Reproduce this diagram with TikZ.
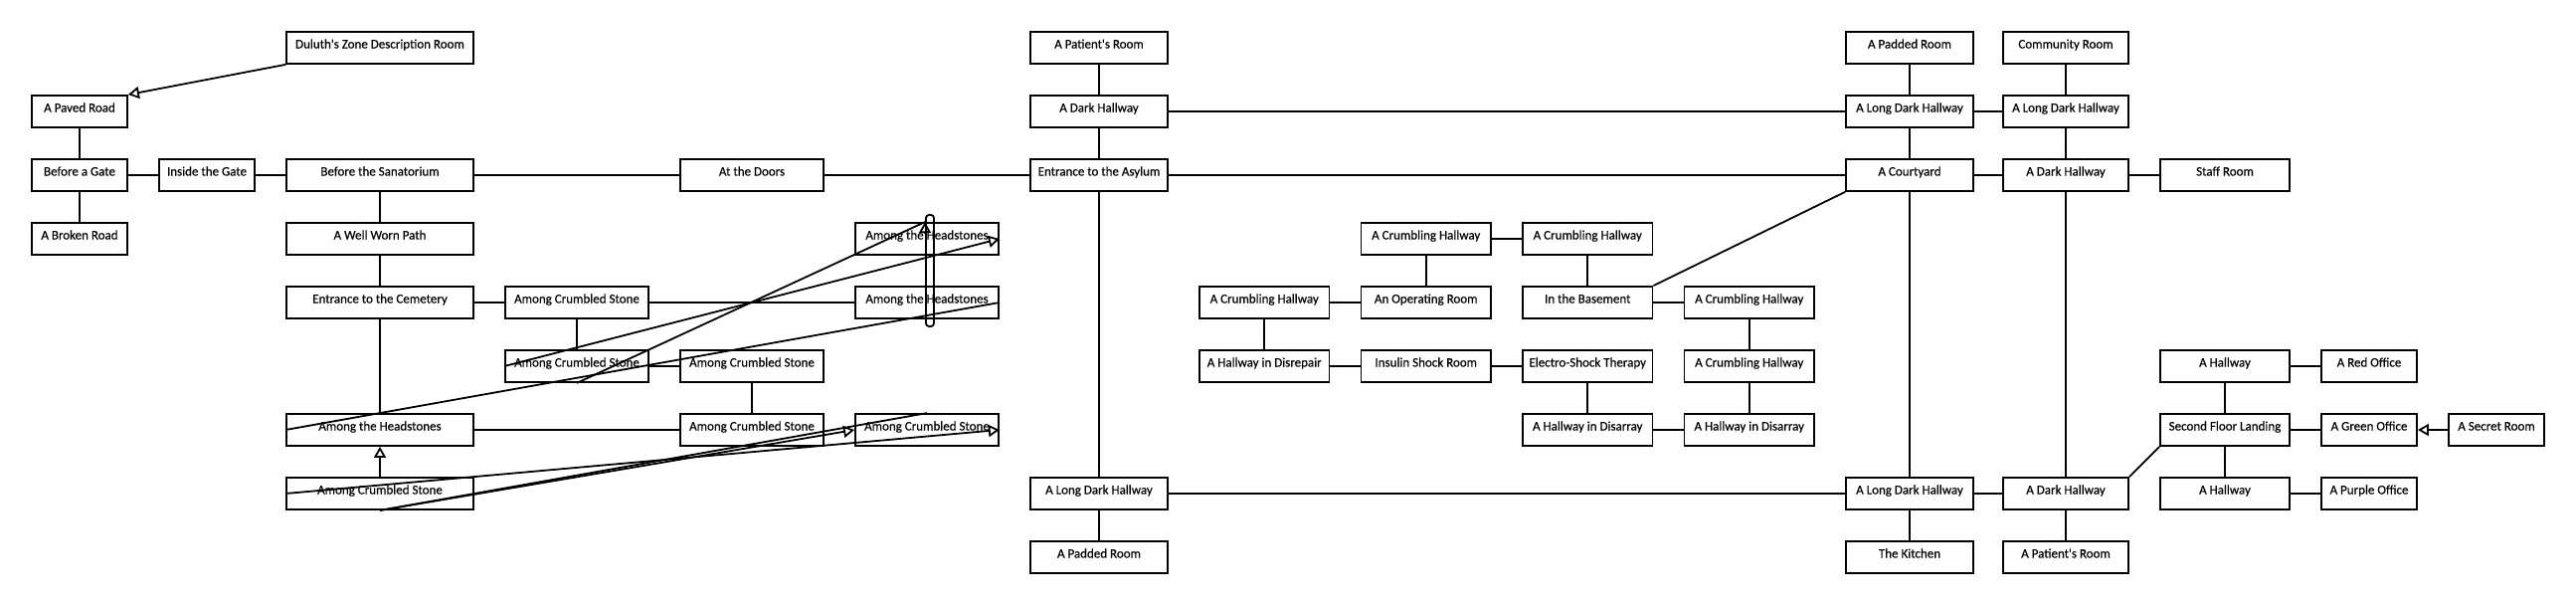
\documentclass[tikz,border=0pt]{standalone}
\usepackage{fontspec}
\setmainfont{Carlito}
\newfontfamily\roomfont[FakeBold=0.4]{Carlito}
\usetikzlibrary{arrows.meta}
\begin{document}
\begin{tikzpicture}[x=1pt,y=-1pt,
  room/.style={draw, line width=1.8pt, rectangle, inner sep=0pt, minimum height=32pt,
    text height=8.5pt, text depth=7.5pt, font=\roomfont\fontsize{13}{15}\selectfont},
  cA/.style={room, minimum width=96pt},
  cB/.style={room, minimum width=188pt},
  cC/.style={room, minimum width=144pt},
  cD/.style={room, minimum width=138pt},
  cE/.style={room, minimum width=130.5pt},
  cF/.style={room, minimum width=128pt},
  cG/.style={room, minimum width=126pt},
  cH/.style={room, minimum width=130pt},
  link/.style={line width=1.8pt},
  tip/.style={line width=1.8pt, -{Triangle[open, length=11pt, width=12pt]}}
]
\useasboundingbox (0,0) rectangle (2590,608);
% row 0
\node[cB] (duluth) at (382,48) {Duluth\textquotesingle s Zone Description Room};
\node[cD] (pat0) at (1105,48) {A Patient\textquotesingle s Room};
\node[cF] (padded0) at (1920,48) {A Padded Room};
\node[cG] (community) at (2077,48) {Community Room};
% row 1
\node[cA] (paved) at (80,112) {A Paved Road};
\node[cD] (darkh1) at (1105,112) {A Dark Hallway};
\node[cF] (ldh1a) at (1920,112) {A Long Dark Hallway};
\node[cG] (ldh1b) at (2077,112) {A Long Dark Hallway};
% row 2
\node[cA] (gate) at (80,176) {Before a Gate};
\node[cA] (inside) at (208,176) {Inside the Gate};
\node[cB] (sanat) at (382,176) {Before the Sanatorium};
\node[cC] (doors) at (756,176) {At the Doors};
\node[cD] (asylum) at (1105,176) {Entrance to the Asylum};
\node[cF] (court) at (1920,176) {A Courtyard};
\node[cG] (darkh2) at (2077,176) {A Dark Hallway};
\node[cH] (staff) at (2237,176) {Staff Room};
% row 3
\node[cA] (broken) at (80,240) {A Broken Road};
\node[cB] (worn) at (382,240) {A Well Worn Path};
\node[cC] (ath3) at (932,240) {Among the Headstones};
\node[cE] (crum3a) at (1433.75,240) {A Crumbling Hallway};
\node[cE] (crum3b) at (1596.25,240) {A Crumbling Hallway};
% row 4
\node[cB] (cemetery) at (382,304) {Entrance to the Cemetery};
\node[cC] (acs4) at (580,304) {Among Crumbled Stone};
\node[cC] (ath4) at (932,304) {Among the Headstones};
\node[cE] (crum4a) at (1271.25,304) {A Crumbling Hallway};
\node[cE] (operating) at (1433.75,304) {An Operating Room};
\node[cE] (basement) at (1596.25,304) {In the Basement};
\node[cE] (crum4b) at (1758.75,304) {A Crumbling Hallway};
% row 5
\node[cC] (acs5a) at (580,368) {Among Crumbled Stone};
\node[cC] (acs5b) at (756,368) {Among Crumbled Stone};
\node[cE] (disrepair) at (1271.25,368) {A Hallway in Disrepair};
\node[cE] (insulin) at (1433.75,368) {Insulin Shock Room};
\node[cE] (electro) at (1596.25,368) {Electro-Shock Therapy};
\node[cE] (crum5) at (1758.75,368) {A Crumbling Hallway};
\node[cH] (hall5) at (2237,368) {A Hallway};
\node[cA] (red) at (2382,368) {A Red Office};
% row 6
\node[cB] (ath6) at (382,432) {Among the Headstones};
\node[cC] (acs6a) at (756,432) {Among Crumbled Stone};
\node[cC] (acs6b) at (932,432) {Among Crumbled Stone};
\node[cE] (disarray1) at (1596.25,432) {A Hallway in Disarray};
\node[cE] (disarray2) at (1758.75,432) {A Hallway in Disarray};
\node[cH] (landing) at (2237,432) {Second Floor Landing};
\node[cA] (green) at (2382,432) {A Green Office};
\node[cA] (secret) at (2510,432) {A Secret Room};
% row 7
\node[cB] (acs7) at (382,496) {Among Crumbled Stone};
\node[cD] (ldh7a) at (1105,496) {A Long Dark Hallway};
\node[cF] (ldh7b) at (1920,496) {A Long Dark Hallway};
\node[cG] (darkh7) at (2077,496) {A Dark Hallway};
\node[cH] (hall7) at (2237,496) {A Hallway};
\node[cA] (purple) at (2382,496) {A Purple Office};
% row 8
\node[cD] (padded8) at (1105,560) {A Padded Room};
\node[cF] (kitchen) at (1920,560) {The Kitchen};
\node[cG] (pat8) at (2077,560) {A Patient\textquotesingle s Room};

% plain links
\draw[link] (paved) -- (gate);
\draw[link] (gate) -- (broken);
\draw[link] (gate) -- (inside);
\draw[link] (inside) -- (sanat);
\draw[link] (sanat) -- (doors);
\draw[link] (doors) -- (asylum);
\draw[link] (sanat) -- (worn);
\draw[link] (worn) -- (cemetery);
\draw[link] (cemetery) -- (acs4);
\draw[link] (cemetery) -- (ath6);
\draw[link] (acs4) -- (ath4);
\draw[link] (acs4) -- (acs5a);
\draw[link] (acs5a) -- (acs5b);
\draw[link] (acs5b) -- (acs6a);
\draw[link] (ath6) -- (acs6a);
\draw[link] (pat0) -- (darkh1);
\draw[link] (darkh1) -- (asylum);
\draw[link] (darkh1) -- (ldh1a);
\draw[link] (asylum) -- (court);
\draw[link] (asylum) -- (ldh7a);
\draw[link] (ldh7a) -- (padded8);
\draw[link] (ldh7a) -- (ldh7b);
\draw[link] (padded0) -- (ldh1a);
\draw[link] (ldh1a) -- (ldh1b);
\draw[link] (community) -- (ldh1b);
\draw[link] (ldh1a) -- (court);
\draw[link] (ldh1b) -- (darkh2);
\draw[link] (court) -- (darkh2);
\draw[link] (darkh2) -- (staff);
\draw[link] (court) -- (ldh7b);
\draw[link] (darkh2) -- (darkh7);
\draw[link] (ldh7b) -- (kitchen);
\draw[link] (ldh7b) -- (darkh7);
\draw[link] (darkh7) -- (pat8);
\draw[link] (darkh7.north east) -- (landing.south west);
\draw[link] (landing) -- (hall5);
\draw[link] (hall5) -- (red);
\draw[link] (landing) -- (green);
\draw[link] (landing) -- (hall7);
\draw[link] (hall7) -- (purple);
\draw[link] (crum3a) -- (crum3b);
\draw[link] (crum3a) -- (operating);
\draw[link] (crum3b) -- (basement);
\draw[link] (crum4a) -- (operating);
\draw[link] (crum4a) -- (disrepair);
\draw[link] (disrepair) -- (insulin);
\draw[link] (insulin) -- (electro);
\draw[link] (basement) -- (crum4b);
\draw[link] (crum4b) -- (crum5);
\draw[link] (electro) -- (disarray1);
\draw[link] (crum5) -- (disarray2);
\draw[link] (disarray1) -- (disarray2);
\draw[link] (basement.north east) -- (court.south west);

% arrowed links
\draw[tip] (duluth.south west) -- (paved.north east);
\draw[tip] (acs7) -- (ath6);
\draw[tip] (secret) -- (green);

% crossing links in the cemetery
\draw[link] (ath6.west) -- (ath4.east);
\draw[tip] (acs5a.west) -- (ath3.east);
\draw[link] (acs5a.south) -- ([xshift=-2pt]ath3.north);
\draw[tip] ([xshift=-2pt,yshift=-11pt]ath3.north) -- ([xshift=-2pt]ath3.north);
\draw[tip] (acs7.west) -- (acs6b.east);
\draw[tip] (acs7.south) -- (acs6b.west);
\draw[link] (acs7.south) -- (acs6b.north);
\draw[link, rounded corners=3pt] (931,216) rectangle (939,328);
\end{tikzpicture}
\end{document}
